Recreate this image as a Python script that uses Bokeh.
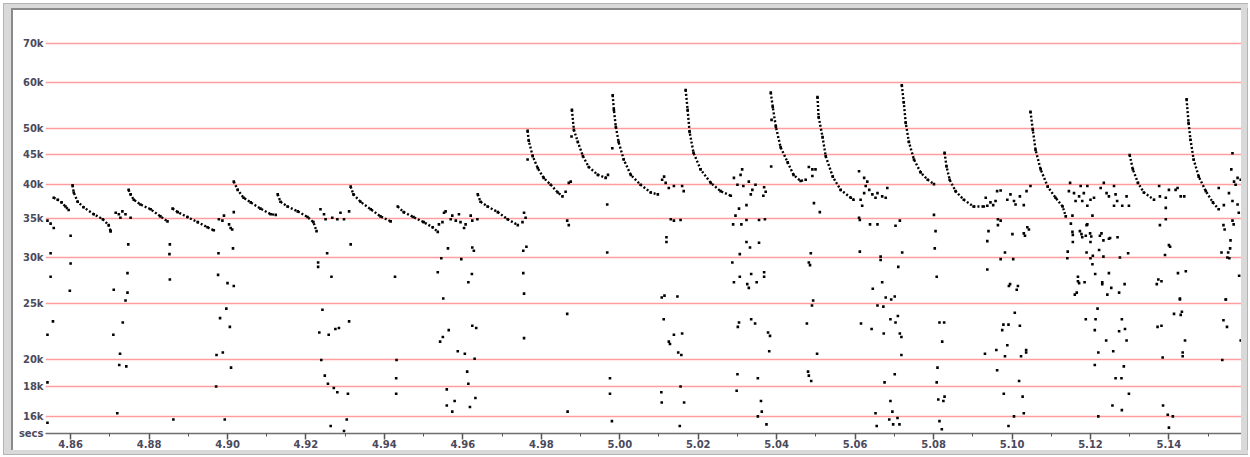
from bokeh.plotting import figure
from bokeh.models import Range1d, FixedTicker, PrintfTickFormatter, NumeralTickFormatter, Div
from bokeh.layouts import column, row
from bokeh.embed import file_html
from bokeh.resources import INLINE

# ---------------- data ----------------
# axis ticks
y_ticks = [16, 18, 20, 25, 30, 35, 40, 45, 50, 60, 70]          # kHz
x_ticks = [4.86, 4.88, 4.90, 4.92, 4.94, 4.96, 4.98, 5.00, 5.02, 5.04, 5.06, 5.08, 5.10, 5.12, 5.14]
x_minor = [4.87, 4.89, 4.91, 4.93, 4.95, 4.97, 4.99, 5.01, 5.03, 5.05, 5.07, 5.09, 5.11, 5.13, 5.15]
x_start, x_end = 4.8536, 5.1585
y_low, y_high = 14.95, 79.7
x_unit_label = "secs"

# call sweeps: time (s) and frequency (kHz) read along each call
call_01 = [(4.8557, 38.0), (4.8567, 37.7), (4.8577, 37.3), (4.8587, 36.7), (4.8595, 36.2)]
call_02 = [(4.8605, 39.9), (4.8608, 38.8), (4.8618, 37.4), (4.8633, 36.6), (4.8659, 35.6), (4.8682, 34.9), (4.8697, 34.1), (4.8702, 33.3)]
call_03 = [(4.8748, 39.2), (4.8753, 38.5), (4.8761, 37.7), (4.8778, 37.0), (4.8804, 36.3), (4.8829, 35.3), (4.8847, 34.6)]
call_04 = [(4.8860, 36.4), (4.8873, 35.9), (4.8898, 35.2), (4.8924, 34.5), (4.8949, 33.8), (4.8965, 33.4)]
call_05 = [(4.9016, 40.5), (4.9026, 39.2), (4.9041, 38.0), (4.9059, 37.3), (4.9084, 36.4), (4.9110, 35.6), (4.9123, 35.5)]
call_06 = [(4.9128, 38.5), (4.9135, 37.4), (4.9153, 36.7), (4.9179, 36.0), (4.9204, 35.2), (4.9219, 34.5), (4.9227, 33.3)]
call_07 = [(4.9314, 39.7), (4.9321, 38.5), (4.9339, 37.4), (4.9365, 36.3), (4.9390, 35.3), (4.9416, 34.6)]
call_08 = [(4.9434, 36.7), (4.9449, 35.9), (4.9474, 35.2), (4.9500, 34.5), (4.9523, 33.8), (4.9536, 33.2)]
call_09 = [(4.9638, 38.5), (4.9645, 37.4), (4.9663, 36.7), (4.9689, 35.9), (4.9714, 34.9), (4.9740, 34.1)]
call_10 = [(4.9765, 49.5), (4.9768, 47.6), (4.9778, 44.8), (4.9791, 42.7), (4.9806, 41.1), (4.9824, 40.0), (4.9842, 38.8), (4.9854, 38.2)]
call_11 = [(4.9878, 53.8), (4.9883, 49.7), (4.9893, 47.4), (4.9906, 44.8), (4.9921, 42.9), (4.9944, 41.6), (4.9964, 41.1), (4.9970, 41.6)]
call_12 = [(4.9982, 57.0), (4.9985, 53.8), (4.9990, 50.3), (4.9997, 47.4), (5.0010, 44.2), (5.0028, 41.6), (5.0053, 40.0), (5.0079, 38.8), (5.0097, 38.5)]
call_13 = [(5.0168, 58.2), (5.0173, 53.8), (5.0178, 49.3), (5.0188, 45.4), (5.0206, 42.5), (5.0232, 40.3), (5.0257, 39.0), (5.0283, 38.3)]
call_14 = [(5.0385, 57.6), (5.0390, 54.4), (5.0398, 50.3), (5.0410, 46.4), (5.0428, 43.7), (5.0443, 41.6), (5.0461, 40.6), (5.0474, 40.8)]
call_15 = [(5.0504, 56.6), (5.0507, 52.3), (5.0517, 48.3), (5.0525, 44.8), (5.0543, 41.3), (5.0563, 39.2), (5.0589, 38.0), (5.0596, 37.7)]
call_16 = [(5.0719, 59.3), (5.0724, 55.4), (5.0729, 51.1), (5.0737, 47.4), (5.0750, 44.2), (5.0767, 42.0), (5.0785, 40.8), (5.0801, 40.1)]
call_17 = [(5.0828, 45.4), (5.0833, 43.0), (5.0841, 40.8), (5.0856, 39.0), (5.0877, 37.7), (5.0902, 36.7), (5.0928, 36.7)]
call_18 = [(5.1047, 53.4), (5.1053, 49.7), (5.1060, 45.9), (5.1073, 42.5), (5.1091, 39.7), (5.1111, 38.0), (5.1129, 36.7), (5.1137, 35.3)]
call_19 = [(5.1300, 45.0), (5.1308, 42.5), (5.1321, 40.3), (5.1336, 38.8), (5.1362, 37.7)]
call_20 = [(5.1445, 56.1), (5.1450, 51.1), (5.1455, 47.8), (5.1463, 44.2), (5.1476, 41.3), (5.1494, 39.0), (5.1512, 37.3), (5.1527, 36.3)]

# scattered isolated points: (time s, frequency kHz)
noise_a = [(4.8600, 32.7), (4.8702, 33.3), (4.8747, 31.6), (4.8853, 31.6), (4.8549, 30.5), (4.8852, 30.4), (4.8977, 30.5),
           (4.9014, 31.1), (4.9254, 30.5), (4.9314, 31.6), (4.9562, 31.1), (4.9624, 31.2), (4.9545, 29.9), (4.9596, 29.8),
           (4.8600, 29.3), (4.9231, 29.4), (4.9231, 28.9), (4.8549, 27.8), (4.8745, 28.2), (4.8853, 27.5), (4.8976, 28.0),
           (4.9000, 27.1), (4.9016, 26.8), (4.9265, 27.8), (4.9427, 27.8), (4.9536, 28.3), (4.9623, 28.1), (4.9614, 27.2),
           (4.8598, 26.3), (4.8710, 26.4), (4.8745, 26.1), (4.8740, 25.3), (4.9550, 25.5), (4.8997, 24.5), (4.9242, 24.4),
           (4.8555, 23.3), (4.8981, 23.6), (4.8733, 23.2), (4.9006, 22.8), (4.9310, 23.3), (4.9275, 22.6), (4.9284, 22.7),
           (4.9564, 22.5), (4.9624, 22.9), (4.9634, 22.7), (4.8541, 22.1), (4.8709, 22.1), (4.9234, 22.3), (4.9258, 22.1),
           (4.9549, 21.9), (4.9542, 21.5), (4.8726, 20.5), (4.8972, 20.4), (4.8988, 20.6), (4.9587, 20.7), (4.9605, 20.5),
           (4.9630, 20.1), (4.9239, 20.0), (4.9431, 20.0), (4.8724, 19.6), (4.8742, 19.5), (4.9009, 19.4), (4.9248, 18.8),
           (4.9611, 19.1), (4.9430, 18.6), (4.8541, 18.3), (4.8971, 18.0), (4.9256, 18.2), (4.9271, 17.9), (4.9280, 17.6),
           (4.9307, 17.5), (4.9614, 18.2), (4.9559, 17.8), (4.9430, 17.5), (4.9632, 17.2), (4.9579, 17.0), (4.9559, 16.7),
           (4.9618, 16.6), (4.9573, 16.3), (4.8719, 16.2), (4.8541, 15.6), (4.8862, 15.8), (4.8993, 15.8), (4.9304, 15.8),
           (4.9263, 15.4), (4.9297, 15.1)]
noise_b = [(5.0805, 33.3), (5.0119, 32.5), (5.0119, 31.9), (4.9762, 31.3), (4.9754, 30.8), (5.0323, 31.9), (5.0355, 31.8),
           (5.0332, 31.2), (5.0803, 31.1), (4.9968, 30.6), (5.0306, 30.4), (5.0487, 30.5), (5.0612, 30.7), (5.0720, 30.6),
           (5.0665, 30.1), (5.0665, 29.7), (5.0287, 29.4), (5.0482, 29.4), (5.0485, 29.1), (5.0710, 28.9), (4.9754, 28.2),
           (5.0335, 28.1), (5.0368, 28.3), (5.0368, 27.8), (5.0306, 27.8), (5.0808, 27.8), (5.0291, 27.2), (5.0349, 27.2),
           (5.0325, 27.0), (5.0329, 26.6), (5.0669, 27.2), (5.0645, 26.5), (4.9756, 26.0), (5.0114, 25.8), (5.0107, 25.6),
           (5.0147, 25.7), (5.0678, 25.6), (5.0692, 25.4), (5.0701, 25.7), (5.0493, 25.3), (5.0490, 24.8), (5.0657, 24.8),
           (5.0672, 24.7), (4.9866, 24.0), (5.0112, 23.5), (5.0335, 23.5), (5.0690, 23.5), (5.0709, 23.8), (5.0304, 23.2),
           (5.0301, 22.8), (5.0345, 23.1), (5.0615, 23.1), (5.0703, 23.2), (5.0477, 23.1), (5.0815, 23.2), (5.0827, 23.2),
           (5.0642, 22.6), (5.0138, 22.1), (5.0159, 22.2), (5.0378, 22.3), (5.0383, 22.0), (5.0673, 22.2), (5.0714, 22.2),
           (5.0718, 21.9), (4.9756, 21.8), (5.0822, 21.5), (5.0125, 21.5), (5.0128, 21.3), (5.0149, 20.6), (5.0157, 20.4),
           (5.0381, 20.7), (5.0503, 20.5), (5.0718, 20.4), (5.0810, 19.4), (5.0300, 18.9), (5.0352, 18.6), (5.0480, 19.1),
           (5.0482, 18.8), (5.0488, 18.4), (5.0701, 18.9), (5.0675, 18.3), (5.0808, 18.3), (4.9975, 18.6), (4.9975, 17.5),
           (5.0155, 18.0), (5.0106, 17.6), (5.0107, 16.9), (5.0164, 16.9), (5.0298, 17.7), (5.0360, 17.0), (5.0690, 17.0),
           (5.0812, 17.1), (5.0825, 17.0), (5.0828, 17.3), (4.9867, 16.3), (5.0362, 16.3), (5.0652, 16.2), (5.0695, 16.3),
           (5.0352, 16.0), (5.0708, 15.9), (5.0687, 15.8), (4.9980, 15.7), (5.0374, 15.5), (5.0697, 15.5), (5.0713, 15.5),
           (5.0655, 15.4), (5.0815, 15.7), (5.0821, 15.2), (5.0153, 15.4)]
noise_c = [(5.1007, 24.1), (5.1188, 23.5), (5.1218, 24.5), (5.1213, 23.5), (5.1280, 23.5), (5.0978, 23.0), (5.0991, 23.0),
           (5.1020, 22.9), (5.0975, 22.5), (5.1211, 22.5), (5.1273, 22.4), (5.1288, 22.6), (5.1371, 22.8), (5.1381, 22.9),
           (5.1413, 24.0), (5.1430, 23.9), (5.1433, 24.2), (5.1539, 23.4), (5.1548, 22.8), (5.1428, 25.4), (5.1545, 25.4),
           (5.1240, 21.6), (5.1292, 21.6), (5.1441, 21.6), (5.1583, 21.6), (5.0988, 21.2), (5.0931, 20.5), (5.0960, 20.8),
           (5.0982, 20.3), (5.1023, 20.3), (5.1036, 20.6), (5.1036, 20.8), (5.1220, 20.6), (5.1258, 20.7), (5.1384, 20.2),
           (5.1435, 20.6), (5.1435, 20.3), (5.1536, 20.0), (5.0962, 19.2), (5.1211, 19.6), (5.1285, 19.5), (5.1018, 18.4),
           (5.1264, 18.6), (5.1279, 18.6), (5.0979, 17.5), (5.1027, 17.3), (5.1298, 17.5), (5.1256, 16.7), (5.1280, 16.4),
           (5.1385, 16.7), (5.1030, 16.2), (5.1005, 16.0), (5.1220, 16.0), (5.1397, 16.1), (5.1410, 16.0), (5.0991, 15.4),
           (5.1400, 15.3)]
noise_d = [(5.0940, 33.3), (5.0964, 34.1), (5.0937, 32.0), (5.1001, 32.9), (5.1030, 33.0), (5.1033, 32.7), (5.1039, 33.8),
           (5.1043, 33.5), (5.0982, 30.6), (5.0971, 29.8), (5.1003, 29.8), (5.0937, 28.6), (5.0995, 27.0), (5.0992, 26.8),
           (5.1015, 26.8), (5.1012, 26.4), (5.1154, 33.2), (5.1173, 33.3), (5.1177, 32.9), (5.1155, 32.8), (5.1179, 32.5),
           (5.1188, 32.7), (5.1199, 33.0), (5.1202, 32.6), (5.1224, 32.7), (5.1228, 33.0), (5.1233, 32.1), (5.1247, 32.3),
           (5.1250, 32.4), (5.1269, 32.5), (5.1155, 31.9), (5.1200, 31.9), (5.1190, 34.1), (5.1142, 30.7), (5.1190, 30.6),
           (5.1222, 30.9), (5.1206, 30.2), (5.1200, 29.9), (5.1233, 30.1), (5.1141, 29.9), (5.1275, 30.0), (5.1296, 30.5),
           (5.1205, 29.2), (5.1212, 28.1), (5.1247, 28.2), (5.1168, 27.8), (5.1168, 27.3), (5.1171, 27.1), (5.1185, 27.2),
           (5.1230, 27.2), (5.1230, 27.0), (5.1287, 27.0), (5.1253, 26.6), (5.1165, 26.1), (5.1160, 25.9), (5.1243, 25.9),
           (5.1273, 26.1), (5.1377, 34.1), (5.1400, 31.5), (5.1403, 31.3), (5.1390, 30.3), (5.1373, 27.5), (5.1381, 27.3),
           (5.1369, 27.0), (5.1423, 28.2), (5.1443, 28.4), (5.1428, 25.5), (5.1539, 34.1), (5.1542, 33.5), (5.1557, 32.1),
           (5.1556, 31.1), (5.1534, 30.6), (5.1551, 30.6), (5.1549, 30.0), (5.1554, 29.9), (5.1579, 27.9), (5.1545, 25.4)]
noise_e = [(4.9756, 35.8), (4.9760, 35.1), (4.9765, 44.2), (4.9862, 38.9), (4.9870, 40.3), (4.9875, 40.5), (4.9877, 48.4),
           (4.9866, 34.7), (4.9870, 34.1), (4.9968, 37.0), (4.9981, 46.2), (5.0113, 41.3), (5.0108, 40.8), (5.0117, 40.3),
           (5.0125, 39.5), (5.0138, 39.8), (5.0159, 39.8), (5.0163, 39.0), (5.0130, 34.9), (5.0138, 34.7), (5.0155, 34.8),
           (5.0291, 41.1), (5.0312, 42.5), (5.0308, 41.6), (5.0300, 40.0), (5.0315, 39.8), (5.0329, 40.5), (5.0338, 39.2),
           (5.0346, 40.0), (5.0334, 38.5), (5.0368, 39.6), (5.0372, 38.9), (5.0366, 38.3), (5.0304, 36.4), (5.0323, 36.9),
           (5.0295, 35.4), (5.0289, 34.2), (5.0310, 34.2), (5.0323, 34.8), (5.0355, 34.8), (5.0370, 34.9), (5.0387, 51.7),
           (5.0386, 43.0), (5.0482, 42.9), (5.0491, 42.5), (5.0499, 42.5), (5.0491, 41.4), (5.0495, 37.2), (5.0510, 35.9),
           (5.0610, 42.2), (5.0623, 41.1), (5.0631, 40.5), (5.0627, 39.8), (5.0636, 39.2), (5.0623, 38.7), (5.0644, 38.5),
           (5.0657, 38.7), (5.0652, 38.0), (5.0614, 37.7), (5.0618, 36.8), (5.0610, 35.1), (5.0612, 34.8), (5.0638, 34.2),
           (5.0657, 34.2)]
noise_f = [(5.0682, 39.5), (5.0678, 38.0), (5.0669, 38.2), (5.0703, 34.0), (5.0714, 34.7), (5.0801, 35.5), (5.0933, 38.0),
           (5.0937, 36.8), (5.0945, 37.3), (5.0952, 36.9), (5.0958, 37.5), (5.0962, 39.0), (5.0971, 39.1), (5.0964, 34.9),
           (5.0971, 34.7), (5.0988, 37.7), (5.0996, 38.5), (5.1005, 37.5), (5.1009, 37.0), (5.1030, 36.9), (5.1020, 38.2),
           (5.1037, 39.0), (5.1047, 39.8), (5.1148, 40.3), (5.1145, 39.0), (5.1158, 38.7), (5.1171, 38.2), (5.1175, 39.8),
           (5.1192, 39.8), (5.1183, 38.7), (5.1162, 37.5), (5.1179, 37.5), (5.1200, 37.7), (5.1192, 36.8), (5.1209, 38.0),
           (5.1226, 39.5), (5.1234, 40.3), (5.1241, 38.7), (5.1247, 38.2), (5.1260, 39.8), (5.1264, 38.5), (5.1268, 37.5),
           (5.1260, 36.8), (5.1281, 36.8), (5.1292, 38.2), (5.1298, 36.8), (5.1154, 35.4), (5.1150, 34.3), (5.1192, 34.2),
           (5.1205, 35.4), (5.1375, 39.8), (5.1377, 38.2), (5.1392, 38.0), (5.1400, 39.2), (5.1417, 39.2), (5.1422, 39.5),
           (5.1430, 38.2), (5.1439, 38.2), (5.1392, 36.5), (5.1392, 34.9), (5.1527, 39.5), (5.1540, 36.9), (5.1553, 38.7),
           (5.1559, 42.5), (5.1562, 45.3), (5.1566, 40.5), (5.1570, 40.0), (5.1575, 41.1), (5.1583, 40.8), (5.1575, 37.0),
           (5.1562, 37.5), (5.1587, 39.2), (5.1578, 35.8), (5.1587, 35.4), (5.1562, 34.7), (5.1565, 34.2)]
noise_g = [(4.8541, 34.7), (4.8549, 34.3), (4.8557, 33.7), (4.8715, 35.8), (4.8723, 35.6), (4.8732, 36.0), (4.8740, 35.6),
           (4.8753, 35.1), (4.8727, 35.1), (4.8978, 34.9), (4.8987, 34.7), (4.8991, 35.4), (4.9004, 34.2), (4.9008, 33.7),
           (4.9012, 33.5), (4.9016, 35.9), (4.9237, 36.3), (4.9246, 35.6), (4.9250, 34.9), (4.9267, 35.1), (4.9280, 34.9),
           (4.9288, 35.8), (4.9297, 34.9), (4.9310, 36.0), (4.9552, 35.8), (4.9556, 36.0), (4.9539, 34.2), (4.9548, 34.5),
           (4.9569, 34.9), (4.9573, 35.4), (4.9582, 34.7), (4.9590, 35.6), (4.9594, 34.5), (4.9603, 33.7), (4.9607, 34.2),
           (4.9620, 35.4), (4.9624, 34.7), (4.9637, 34.9), (4.9752, 34.5), (4.9628, 30.8)]

calls = [call_01, call_02, call_03, call_04, call_05, call_06, call_07, call_08, call_09, call_10,
         call_11, call_12, call_13, call_14, call_15, call_16, call_17, call_18, call_19, call_20]
noise = noise_a + noise_b + noise_c + noise_d + noise_e + noise_f + noise_g

calls_t = [[t for t, f in c] for c in calls]
calls_f = [[f for t, f in c] for c in calls]
call_pts_t = [t for c in calls for t, f in c]
call_pts_f = [f for c in calls for t, f in c]
noise_t = [t for t, f in noise]
noise_f_vals = [f for t, f in noise]

# ---------------- styling ----------------
LABEL_COLOR = "#4a4a5c"
GRID_RED = "#ff9e9e"
LIGHT = "#d9d9d9"
OUTER = "#b4b4b4"
DARK = "#8a8a8a"
WHITE = "#ffffff"
FONT = "DejaVu Sans"

p = figure(width=1228, height=440,
           x_range=Range1d(x_start, x_end), y_range=Range1d(y_low, y_high),
           y_axis_type="log", output_backend="svg", toolbar_location=None,
           min_border_left=32, min_border_right=0, min_border_top=0, min_border_bottom=15)
p.background_fill_color = "white"
p.border_fill_color = "white"
p.outline_line_color = None
p.margin = 0

p.xgrid.visible = False
p.ygrid.grid_line_color = GRID_RED
p.ygrid.grid_line_width = 1.5

xa = p.xaxis[0]
xa.ticker = FixedTicker(ticks=x_ticks, minor_ticks=x_minor)
xa.formatter = NumeralTickFormatter(format="0.00")
xa.axis_line_color = "#6e6e6e"
xa.axis_line_width = 1.5
xa.major_tick_in = 0
xa.major_tick_out = 6
xa.major_tick_line_color = "#555555"
xa.major_tick_line_width = 1.5
xa.minor_tick_in = 0
xa.minor_tick_out = 3
xa.minor_tick_line_color = "#555555"
xa.major_label_standoff = 0
xa.major_label_text_font = FONT
xa.major_label_text_font_size = "10px"
xa.major_label_text_font_style = "bold"
xa.major_label_text_color = LABEL_COLOR

# y axis: frequency labels; the frame-bottom tick carries the time-unit label "secs"
ya = p.yaxis[0]
ya.ticker = FixedTicker(ticks=[y_low] + y_ticks)
ya.formatter = PrintfTickFormatter(format="%dk")
ya.major_label_overrides = {y_low: x_unit_label}
ya.axis_line_color = None
ya.major_tick_line_color = None
ya.minor_tick_line_color = None
ya.major_tick_out = 0
ya.major_tick_in = 0
ya.major_label_standoff = 2
ya.major_label_text_font = FONT
ya.major_label_text_font_size = "10px"
ya.major_label_text_font_style = "bold"
ya.major_label_text_color = LABEL_COLOR

p.multi_line(xs=calls_t, ys=calls_f, line_color="black", line_width=2.4, line_dash="2 2")
p.scatter(call_pts_t, call_pts_f, marker="square", size=2.6, color="black", line_color=None)
p.scatter(noise_t, noise_f_vals, marker="square", size=2.6, color="black", line_color=None)

def strip(w, h, c):
    return Div(text="", width=w, height=h, margin=0, styles={"background-color": c})

def hrow(*items):
    return row(*items, spacing=0, margin=0)

r0 = strip(1248, 3, WHITE)
r1 = hrow(strip(3, 1, WHITE), strip(1245, 1, OUTER))
r2 = hrow(strip(3, 4, WHITE), strip(1, 4, OUTER), strip(1244, 4, LIGHT))
r3 = hrow(strip(3, 2, WHITE), strip(1, 2, OUTER), strip(7, 2, LIGHT), strip(1230, 2, DARK), strip(6, 2, LIGHT), strip(1, 2, OUTER))
r4 = hrow(strip(3, 440, WHITE), strip(1, 440, OUTER), strip(7, 440, LIGHT), strip(2, 440, DARK), p, strip(6, 440, LIGHT), strip(1, 440, OUTER))
r5 = hrow(strip(3, 4, WHITE), strip(1, 4, OUTER), strip(1244, 4, LIGHT))
r6 = hrow(strip(3, 1, WHITE), strip(1245, 1, OUTER))
root = column(r0, r1, r2, r3, r4, r5, r6, spacing=0, margin=0)

open("out.html", "w").write(file_html(root, INLINE))
